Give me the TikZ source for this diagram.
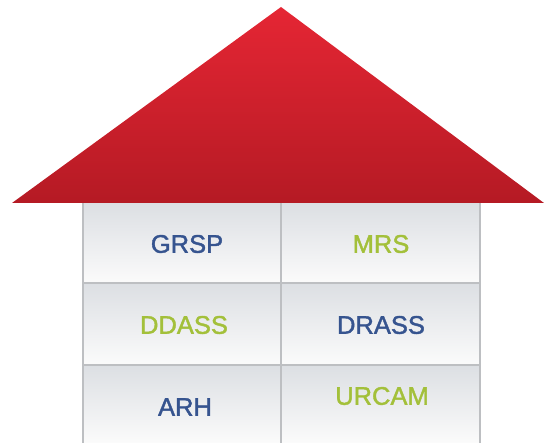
\documentclass[tikz,border=0pt]{standalone}
\usepackage{fontspec}
\setmainfont{Liberation Sans}
\newfontfamily\labelfont[FakeBold=1.6]{Liberation Sans}
\definecolor{roofTop}{HTML}{E52634}
\definecolor{roofBot}{HTML}{B51A24}
\definecolor{cellTop}{HTML}{DCDFE3}
\definecolor{cellBot}{HTML}{FBFBFB}
\definecolor{gridLine}{HTML}{BDBFC2}
\definecolor{orgBlue}{HTML}{36548F}
\definecolor{orgGreen}{HTML}{A3C03A}
\begin{document}
\begin{tikzpicture}[x=1pt,y=-1pt,
  cellshade/.style={top color=cellTop,bottom color=cellBot},
  label/.style={font=\labelfont\fontsize{25.5}{29}\selectfont, inner sep=0pt, anchor=center},
  blue/.style={label,text=orgBlue},
  green/.style={label,text=orgGreen}]
\useasboundingbox (0,0) rectangle (544,443);
% wall cells
\foreach \xa/\xb in {83/281,281/480}{
  \shade[cellshade] (\xa,203) rectangle (\xb,283);
  \shade[cellshade] (\xa,283) rectangle (\xb,365);
  \shade[cellshade] (\xa,365) rectangle (\xb,443);
}
% grid lines
\draw[gridLine,line width=1.4pt] (83,203) -- (83,443) (281,203) -- (281,443) (480,203) -- (480,443)
  (83,283) -- (480,283) (83,365) -- (480,365);
% roof
\shade[top color=roofTop,bottom color=roofBot] (281,7) -- (544,203) -- (12,203) -- cycle;
% labels
\node[blue]  (grsp)  at (187,244) {GRSP};
\node[green] (mrs)   at (381,244) {MRS};
\node[green] (ddass) at (184,325) {DDASS};
\node[blue]  (drass) at (381,325) {DRASS};
\node[blue]  (arh)   at (185,407) {ARH};
\node[green] (urcam) at (382,396) {URCAM};
\end{tikzpicture}
\end{document}
